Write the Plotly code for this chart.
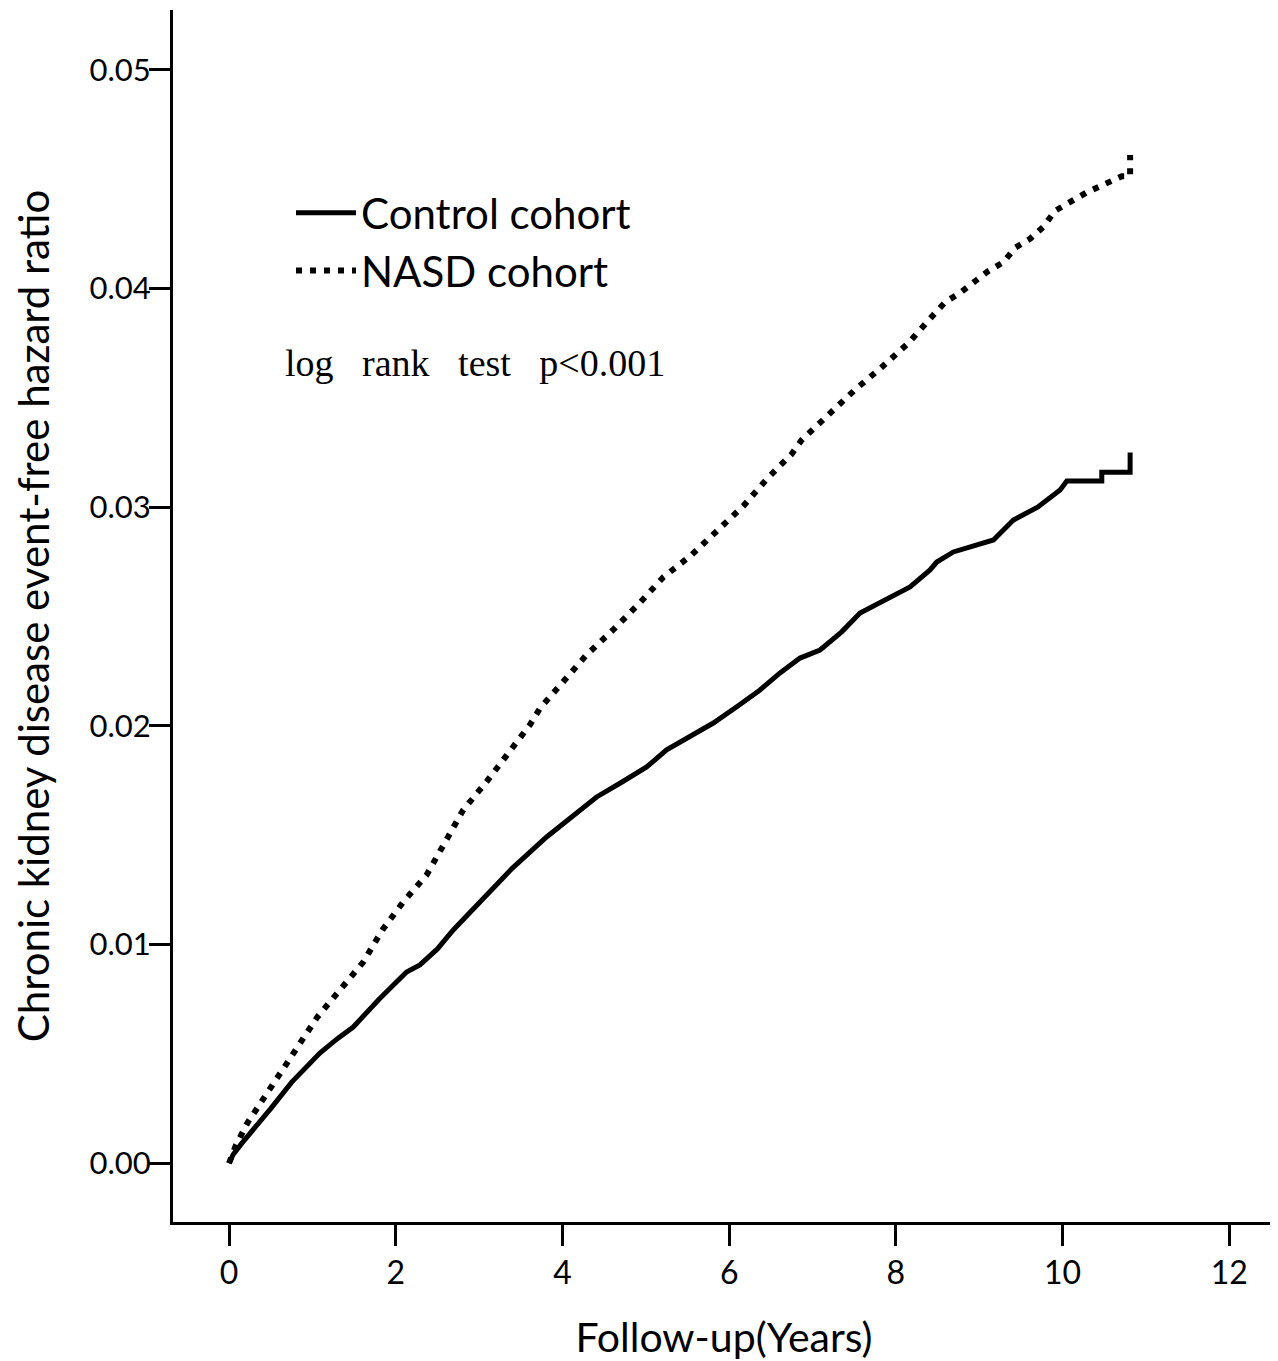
import plotly.graph_objects as go

# Follow-up years and cumulative hazard values
control_years = [0.0, 0.05, 0.15, 0.29, 0.5, 0.75, 1.09, 1.3, 1.49, 1.8, 2.13, 2.29, 2.5, 2.69, 3.01,
                 3.4, 3.81, 4.1, 4.41, 4.7, 5.01, 5.25, 5.49, 5.81, 6.1, 6.37, 6.61, 6.85, 7.09,
                 7.35, 7.57, 7.85, 8.17, 8.41, 8.49, 8.69, 8.9, 9.17, 9.41, 9.7, 9.97, 10.05,
                 10.47, 10.47, 10.81, 10.81]
control_haz = [0.0, 0.0004, 0.0009, 0.00152, 0.0025, 0.0037, 0.00504, 0.0057, 0.00623, 0.0075, 0.00875,
               0.00907, 0.0098, 0.01067, 0.01195, 0.0135, 0.01492, 0.0158, 0.01675, 0.0174, 0.01812,
               0.0189, 0.01945, 0.02013, 0.0209, 0.02164, 0.02242, 0.0231, 0.02347, 0.0243, 0.02516,
               0.0257, 0.02635, 0.02713, 0.02749, 0.02795, 0.0282, 0.0285, 0.02941, 0.0300, 0.03079,
               0.0312, 0.0312, 0.0316, 0.0316, 0.0325]

nasd_years = [0.0, 0.08, 0.22, 0.46, 0.82, 1.06, 1.33, 1.61, 1.84, 2.09, 2.37, 2.59, 2.81, 3.09,
              3.35, 3.61, 3.73, 4.01, 4.29, 4.61, 4.91, 5.21, 5.53, 5.85, 6.17, 6.45, 6.75, 6.87,
              7.19, 7.51, 7.83, 8.15, 8.43, 8.59, 8.77, 9.1, 9.29, 9.43, 9.61, 9.77, 9.91, 10.29,
              10.71, 10.81, 10.81]
nasd_haz = [0.0, 0.0008, 0.00184, 0.00321, 0.00532, 0.00669, 0.00792, 0.0092, 0.01067, 0.01195,
            0.01318, 0.01469, 0.01616, 0.01745, 0.01873, 0.02005, 0.0208, 0.0220, 0.02325, 0.0244,
            0.02555, 0.0268, 0.02775, 0.0289, 0.03005, 0.03128, 0.03243, 0.03307, 0.0342, 0.03537,
            0.0364, 0.0375, 0.0387, 0.03937, 0.0398, 0.04077, 0.0412, 0.04186, 0.04227, 0.04282,
            0.04355, 0.04439, 0.04513, 0.04513, 0.0461]

x_ticks = [0, 2, 4, 6, 8, 10, 12]
y_ticks = [0.00, 0.01, 0.02, 0.03, 0.04, 0.05]
y_tick_labels = ["0.00", "0.01", "0.02", "0.03", "0.04", "0.05"]

series_names = ["Control cohort", "NASD cohort"]

# figure is placed at an 8px page offset (default body margin)
W, H = 1270, 1353
L, R, T, B = 165, 1267, 2, 1214

fig = go.Figure()
fig.add_trace(go.Scatter(x=control_years, y=control_haz, mode="lines", name=series_names[0],
                         line=dict(color="black", width=5)))
fig.add_trace(go.Scatter(x=nasd_years, y=nasd_haz, mode="lines", name=series_names[1],
                         line=dict(color="black", width=6, dash="6px,8px")))

sp = "&nbsp;&nbsp;&nbsp;"
fig.add_annotation(x=(275 - L) / (R - L), y=0.0366, xref="paper", yref="y",
                   text="log" + sp + "rank" + sp + "test" + sp + "p<0.001", showarrow=False,
                   xanchor="left", yanchor="middle",
                   font=dict(family="Liberation Serif", size=38, color="black"))

fig.update_layout(
    width=W, height=H,
    margin=dict(l=L, r=W - R, t=T, b=H - B, autoexpand=False),
    paper_bgcolor="white", plot_bgcolor="white",
    font=dict(family="Lato", color="black"),
    showlegend=True,
    legend=dict(x=(283 - L) / (R - L), y=(B - 171) / (B - T),
                xanchor="left", yanchor="top",
                font=dict(family="Lato", size=42, color="black"),
                bgcolor="rgba(0,0,0,0)", tracegroupgap=0, itemwidth=60),
    xaxis=dict(range=[-0.672, 12.548], tickvals=x_ticks, ticks="outside", ticklen=21, tickwidth=3,
               tickcolor="black", showline=True, linecolor="black", linewidth=3, showgrid=False,
               zeroline=False, automargin=False, tickfont=dict(family="Lato", size=32),
               title=dict(text="Follow-up(Years)", font=dict(family="Lato", size=41), standoff=36)),
    yaxis=dict(range=[-0.002684, 0.05273], tickvals=y_ticks, ticktext=y_tick_labels,
               ticks="outside", ticklen=21, tickwidth=3, tickcolor="black",
               showline=True, linecolor="black", linewidth=3, showgrid=False, zeroline=False,
               automargin=False, tickfont=dict(family="Lato", size=31), ticklabelstandoff=-8,
               title=dict(text="Chronic kidney disease event-free hazard ratio",
                          font=dict(family="Lato", size=42), standoff=56)),
)

fig.write_html("out.html")
